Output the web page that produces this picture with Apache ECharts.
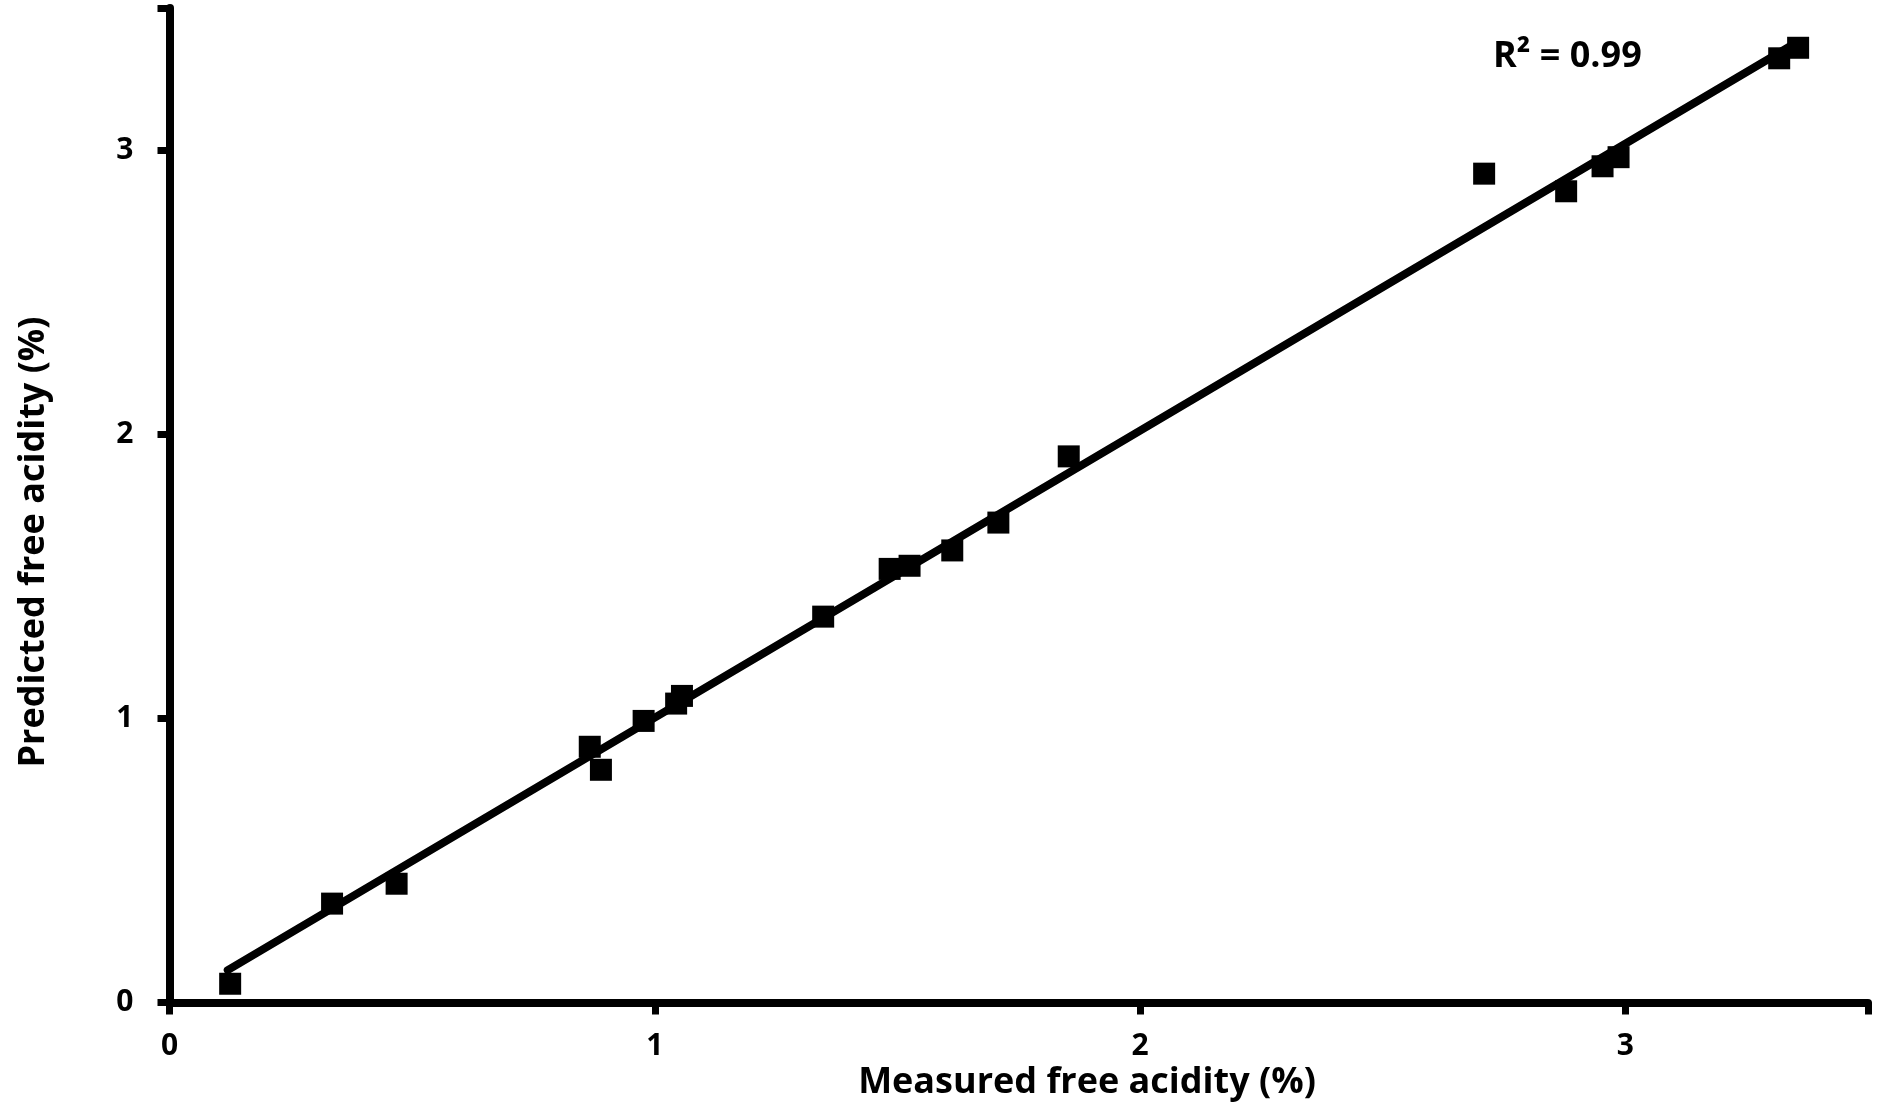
<!DOCTYPE html>
<html>
<head>
<meta charset="utf-8">
<style>
  html, body { margin: 0; padding: 0; background: #fff; }
  #chart { width: 1880px; height: 1110px; }
</style>
<script src="https://cdn.jsdelivr.net/npm/echarts@6/dist/echarts.min.js"></script>
</head>
<body>
<div id="chart"></div>
<script>
// Measured (x) vs predicted (y) free acidity, %
const measured  = [0.125, 0.335, 0.468, 0.866, 0.889, 0.977, 1.044, 1.056, 1.347, 1.484,
                   1.525, 1.613, 1.708, 1.853, 2.709, 2.878, 2.953, 2.986, 3.317, 3.356];
const predicted = [0.066, 0.348, 0.418, 0.900, 0.819, 0.991, 1.052, 1.079, 1.358, 1.526,
                   1.537, 1.591, 1.689, 1.922, 2.917, 2.855, 2.943, 2.975, 3.323, 3.360];
// Trendline end points
const trendX = [0.12, 3.357];
const trendY = [0.114, 3.383];
const axisTicks = [0, 1, 2, 3];
const xTitle = 'Measured free acidity (%)';
const yTitle = 'Predicted free acidity (%)';
const r2Text = 'R\u00B2 = 0.99';

const FONT = '"Open Sans"';
const chart = echarts.init(document.getElementById('chart'), null, { renderer: 'canvas' });

const axisCommon = {
  type: 'value', min: 0, max: 3.5, interval: 1,
  axisLine: { show: true, onZero: false, lineStyle: { color: '#000', width: 8 } },
  axisTick: { show: true, inside: false, length: 12, lineStyle: { color: '#000', width: 7 } },
  splitLine: { show: false },
  axisLabel: {
    color: '#000', fontFamily: FONT, fontWeight: 'bold', fontSize: 30,
    formatter: v => (axisTicks.indexOf(v) >= 0 ? String(v) : '')
  }
};

chart.setOption({
  animation: false,
  backgroundColor: '#fff',
  grid: { left: 169.5, right: 12, top: 8, bottom: 107.5, containLabel: false, outerBoundsMode: 'none' },
  xAxis: Object.assign({}, axisCommon, {
    axisLabel: Object.assign({}, axisCommon.axisLabel, { margin: 29 })
  }),
  yAxis: Object.assign({}, axisCommon, {
    axisLabel: Object.assign({}, axisCommon.axisLabel, { margin: 36 })
  }),
  series: [
    {
      type: 'line',
      data: trendX.map((x, i) => [x, trendY[i]]),
      symbol: 'none',
      lineStyle: { color: '#000', width: 8, cap: 'round' },
      z: 1
    },
    {
      type: 'scatter',
      data: measured.map((x, i) => [x, predicted[i]]),
      symbol: 'rect',
      symbolSize: 22,
      itemStyle: { color: '#000', opacity: 1 },
      z: 2
    }
  ],
  graphic: [
    {
      type: 'text', x: 1087, y: 1083,
      style: { text: xTitle, fill: '#000', font: 'bold 36px ' + FONT, textAlign: 'center', textVerticalAlign: 'middle' }
    },
    {
      type: 'text', x: 34, y: 542, rotation: Math.PI / 2,
      style: { text: yTitle, fill: '#000', font: 'bold 36px ' + FONT, textAlign: 'center', textVerticalAlign: 'middle' }
    },
    {
      type: 'text', x: 1493, y: 57,
      style: { text: r2Text, fill: '#000', font: 'bold 36px ' + FONT, textAlign: 'left', textVerticalAlign: 'middle' }
    }
  ]
});
</script>
</body>
</html>
